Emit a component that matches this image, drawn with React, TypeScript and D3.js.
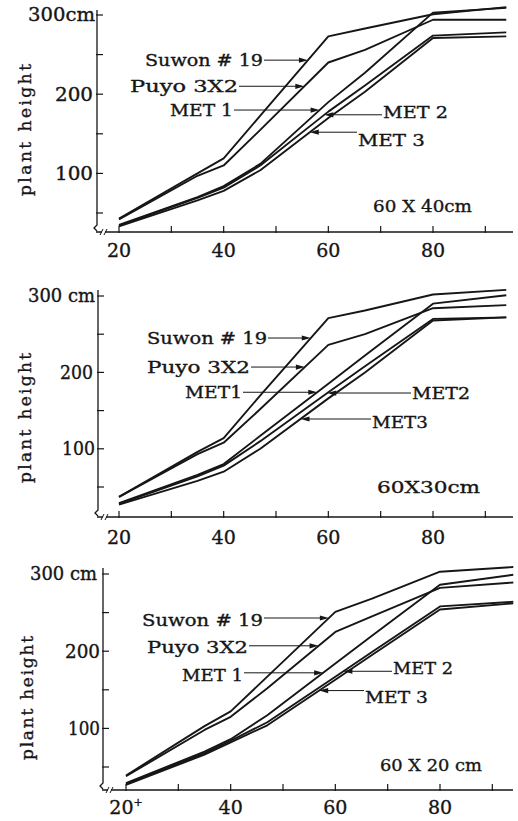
import * as d3 from 'd3';

const W = 518;
const H = 821;

const DAYS = [20, 35, 40, 47, 60, 67, 80, 94];

// 60 X 40cm
const SUWON_40 = [43, 100, 119, 173, 273, 283, 301, 310];
const PUYO_40 = [42, 97, 110, 155, 240, 256, 294, 294];
const MET1_40 = [35, 70, 84, 112, 190, 227, 303, 309];
const MET2_40 = [34, 69, 82, 110, 178, 211, 274, 278];
const MET3_40 = [33, 66, 78, 104, 170, 203, 271, 273];

// 60 X 30cm
const SUWON_30 = [37, 96, 114, 170, 271, 281, 302, 308];
const PUYO_30 = [37, 93, 108, 152, 236, 250, 284, 288];
const MET1_30 = [29, 66, 80, 117, 185, 222, 290, 301];
const MET2_30 = [28, 64, 78, 110, 174, 208, 270, 272];
const MET3_30 = [27, 58, 70, 100, 166, 200, 268, 272];

// 60 X 20cm
const SUWON_20 = [39, 103, 122, 167, 251, 268, 303, 309];
const PUYO_20 = [38, 98, 115, 152, 225, 245, 282, 289];
const MET1_20 = [29, 70, 86, 117, 184, 220, 286, 299];
const MET2_20 = [28, 68, 84, 108, 167, 199, 258, 264];
const MET3_20 = [27, 66, 82, 104, 163, 195, 254, 262];

const NAMES_40 = ['Suwon # 19', 'Puyo 3X2', 'MET 1', 'MET 2', 'MET 3'];
const NAMES_30 = ['Suwon # 19', 'Puyo 3X2', 'MET1', 'MET2', 'MET3'];
const NAMES_20 = ['Suwon # 19', 'Puyo 3X2', 'MET 1', 'MET 2', 'MET 3'];

// height (cm) at which each label's arrow meets its line
const ARROW_40 = [243, 210, 180, 174, 152];
const ARROW_30 = [245, 207, 174, 173, 139];
const ARROW_20 = [243, 207, 172, 174, 149];

const Y_TICKS = [50, 100, 150, 200, 250, 300];
const Y_LABELS = ['300', '200', '100'];
const X_TICKS = [20, 30, 40, 50, 60, 70, 80, 90];
const X_LABELS = ['20', '40', '60', '80'];

const INK = '#161616';
const FONT = '"DejaVu Serif", "Liberation Serif", serif';

const PANELS = [
  {
    title: '60 X 40cm', topUnit: '300cm', names: NAMES_40, arrows: ARROW_40,
    series: [SUWON_40, PUYO_40, MET1_40, MET2_40, MET3_40],
    x20: 119, x80: 433, y50: 213, y300: 15, axisX: 97, axisY: 232, axisTop: 10,
    tickLabelY: 257, titleBox: [373, 99, 206], yTitle: [25, 130, 132],
    yLabelBoxes: [[28, 67], [55, 38], [55, 38]],
    labelBoxes: [[145, 118, 0], [130, 108, 0], [170, 63, 0], [383, 65, -3], [358, 67, 8]],
    plus: false,
  },
  {
    title: '60X30cm', topUnit: '300 cm', names: NAMES_30, arrows: ARROW_30,
    series: [SUWON_30, PUYO_30, MET1_30, MET2_30, MET3_30],
    x20: 119, x80: 433, y50: 487, y300: 296, axisX: 98, axisY: 517, axisTop: 290,
    tickLabelY: 544, titleBox: [377, 103, 487], yTitle: [25, 418, 130],
    yLabelBoxes: [[28, 67], [60, 33], [62, 33]],
    labelBoxes: [[147, 120, 0], [147, 103, 0], [185, 57, 0], [412, 58, 0], [372, 56, 3]],
    plus: false,
  },
  {
    title: '60 X 20 cm', topUnit: '300 cm', names: NAMES_20, arrows: ARROW_20,
    series: [SUWON_20, PUYO_20, MET1_20, MET2_20, MET3_20],
    x20: 126, x80: 440, y50: 767, y300: 574, axisX: 103, axisY: 790, axisTop: 568,
    tickLabelY: 814, titleBox: [380, 102, 765], yTitle: [27, 698, 124],
    yLabelBoxes: [[30, 67], [65, 35], [68, 32]],
    labelBoxes: [[142, 121, 2], [147, 101, 1], [182, 61, 2], [393, 60, -3], [365, 63, 6]],
    plus: true,
  },
];

function dayAt(values, v) {
  for (let i = 0; i < values.length - 1; i++) {
    const a = values[i];
    const b = values[i + 1];
    if (v >= a && v <= b && b !== a) {
      return DAYS[i] + ((v - a) / (b - a)) * (DAYS[i + 1] - DAYS[i]);
    }
  }
  return DAYS[DAYS.length - 1];
}

function Panel({ p }) {
  const x = d3.scaleLinear().domain([20, 80]).range([p.x20, p.x80]);
  const y = d3.scaleLinear().domain([50, 300]).range([p.y50, p.y300]);
  const line = d3
    .line()
    .x((d, i) => x(DAYS[i]))
    .y((d) => y(d));
  const xEnd = 513;

  return (
    <g>
      {/* y axis with break */}
      <path
        d={`M${p.axisX},${p.axisTop}V${p.axisY - 7}l-3,3l3,3`}
        fill="none"
        stroke={INK}
        strokeWidth={1.3}
      />
      <line x1={p.axisX - 1} x2={xEnd} y1={p.axisY} y2={p.axisY} stroke={INK} strokeWidth={1.3} />
      <rect x={p.axisX + 5} y={p.axisY - 3} width={3} height={6} fill="#fff" stroke="none" />
      <path
        d={`M${p.axisX + 3},${p.axisY + 3}l3,-6M${p.axisX + 7},${p.axisY + 3}l3,-6`}
        stroke={INK}
        strokeWidth={1}
      />
      {Y_TICKS.map((t) => (
        <line
          key={t}
          x1={p.axisX - 1}
          x2={p.axisX + 6}
          y1={y(t)}
          y2={y(t)}
          stroke={INK}
          strokeWidth={1.2}
        />
      ))}
      {X_TICKS.map((t) => (
        <line
          key={t}
          x1={x(t)}
          x2={x(t)}
          y1={p.axisY - 6}
          y2={p.axisY + 1}
          stroke={INK}
          strokeWidth={1.2}
        />
      ))}

      <g stroke={INK} strokeWidth={0.35}>
        {/* y tick labels */}
        {Y_LABELS.map((lab, i) => {
          const [lx, lw] = p.yLabelBoxes[i];
          const text = i === 0 ? p.topUnit : lab;
          return (
            <text
              key={lab}
              x={lx}
              y={y(+lab)}
              dy="0.36em"
              textLength={lw}
              lengthAdjust="spacingAndGlyphs"
              fontSize={18}
            >
              {text}
            </text>
          );
        })}

        {/* x tick labels */}
        {X_LABELS.map((lab, i) => (
          <text key={lab} x={x(+lab)} y={p.tickLabelY} textAnchor="middle" fontSize={19}>
            {lab}
            {p.plus && i === 0 ? (
              <tspan fontSize={11} dy={-8}>
                +
              </tspan>
            ) : null}
          </text>
        ))}

        {/* axis title */}
        <text
          transform={`translate(${p.yTitle[0]},${p.yTitle[1]}) rotate(-90)`}
          textAnchor="middle"
          dy="0.35em"
          fontSize={17}
          textLength={p.yTitle[2]}
          lengthAdjust="spacing"
        >
          plant height
        </text>

        {/* spacing title */}
        <text
          x={p.titleBox[0]}
          y={p.titleBox[2]}
          dy="0.36em"
          fontSize={17}
          textLength={p.titleBox[1]}
          lengthAdjust="spacingAndGlyphs"
        >
          {p.title}
        </text>
      </g>

      {/* series */}
      {p.series.map((s, i) => (
        <path
          key={i}
          d={line(s)}
          fill="none"
          stroke={INK}
          strokeWidth={1.9}
          strokeLinejoin="round"
        />
      ))}

      {/* labels with arrows */}
      {p.series.map((s, i) => {
        const [lx, lw, dy] = p.labelBoxes[i];
        const ay = y(p.arrows[i]);
        const tipX = x(dayAt(s, p.arrows[i]));
        const right = lx > tipX;
        const startX = right ? lx - 1 : lx + lw + 1;
        const dir = right ? 1 : -1;
        return (
          <g key={i}>
            <text
              x={lx}
              y={ay + dy}
              dy="0.36em"
              fontSize={17}
              textLength={lw}
              lengthAdjust="spacingAndGlyphs"
              stroke={INK}
              strokeWidth={0.35}
            >
              {p.names[i]}
            </text>
            <line x1={startX} x2={tipX + dir * 6} y1={ay} y2={ay} stroke={INK} strokeWidth={1} />
            <path d={`M${tipX},${ay}l${dir * 9},-2.6v5.2z`} fill={INK} />
          </g>
        );
      })}
    </g>
  );
}

export default function App() {
  return (
    <svg
      width={W}
      height={H}
      viewBox={`0 0 ${W} ${H}`}
      style={{ position: 'absolute', left: 0, top: 0, background: '#fff' }}
      fontFamily={FONT}
      fill={INK}
    >
      {PANELS.map((p, i) => (
        <Panel key={i} p={p} />
      ))}
    </svg>
  );
}
